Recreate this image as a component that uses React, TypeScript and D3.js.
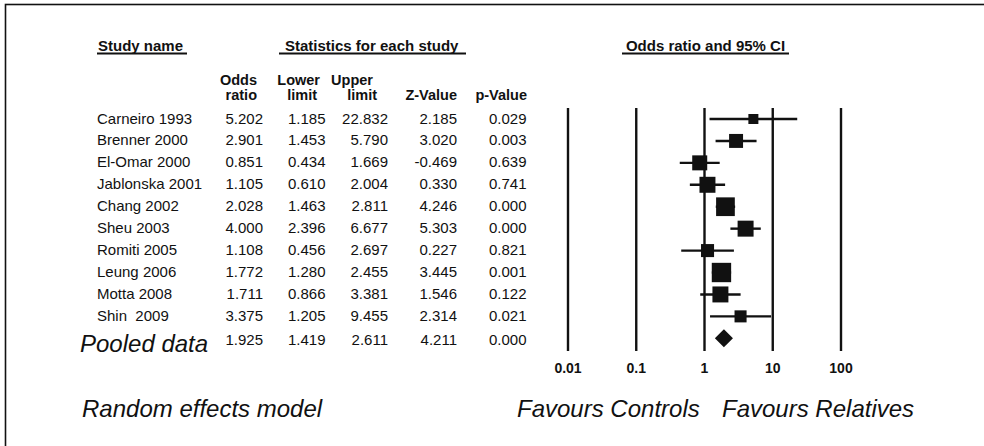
import React, { useEffect, useRef } from 'react';
import * as d3 from 'd3';

const studies = [
  'Carneiro 1993', 'Brenner 2000', 'El-Omar 2000', 'Jablonska 2001', 'Chang 2002',
  'Sheu 2003', 'Romiti 2005', 'Leung 2006', 'Motta 2008', 'Shin  2009',
];
const oddsRatio = [5.202, 2.901, 0.851, 1.105, 2.028, 4.0, 1.108, 1.772, 1.711, 3.375];
const lowerLimit = [1.185, 1.453, 0.434, 0.61, 1.463, 2.396, 0.456, 1.28, 0.866, 1.205];
const upperLimit = [22.832, 5.79, 1.669, 2.004, 2.811, 6.677, 2.697, 2.455, 3.381, 9.455];
const zValue = [2.185, 3.02, -0.469, 0.33, 4.246, 5.303, 0.227, 3.445, 1.546, 2.314];
const pValue = [0.029, 0.003, 0.639, 0.741, 0.0, 0.0, 0.821, 0.001, 0.122, 0.021];
// relative weights
const weights = [4.0, 7.8, 9.0, 10.2, 14.0, 10.2, 6.8, 15.0, 10.2, 5.8];

const pooledLabel = 'Pooled data';
const pooledValues = [1.925, 1.419, 2.611, 4.211, 0.0];

const axisTicks = [0.01, 0.1, 1, 10, 100];
const tickLabels = ['0.01', '0.1', '1', '10', '100'];

const FONT = '"Liberation Sans", Arial, Helvetica, sans-serif';
const INK = '#111';

export default function App() {
  const svgRef = useRef<SVGSVGElement>(null);

  useEffect(() => {
    if (!svgRef.current) return;
    const width = 984;
    const height = 446;
    const svg = d3.select(svgRef.current).attr('width', width).attr('height', height);
    svg.selectAll('*').remove();

    // frame
    svg.append('rect')
      .attr('x', 5.5).attr('y', 4.5)
      .attr('width', 1000).attr('height', 500)
      .attr('fill', 'white')
      .attr('stroke', INK).attr('stroke-width', 1.6);

    const x = d3.scaleLog().domain([0.01, 100]).range([568, 841]);
    const row = d3.scaleLinear().domain([0, 10]).range([119, 338.3]);
    const side = d3.scaleSqrt().domain([0, 16]).range([0, 20]);
    const fmt = d3.formatLocale({ decimal: '.', thousands: ',', grouping: [3], currency: ['', ''], minus: '-' }).format('.3f');

    // headers
    const headers = [
      { t: 'Study name', x: 98, a: 'start', ul: [97, 187] },
      { t: 'Statistics for each study', x: 285, a: 'start', ul: [279, 466] },
      { t: 'Odds ratio and 95% CI', x: 705.5, a: 'middle', ul: [622, 789] },
    ];
    headers.forEach(h => {
      svg.append('text')
        .attr('x', h.x).attr('y', 50.5)
        .attr('text-anchor', h.a)
        .attr('font-family', FONT).attr('font-weight', 'bold').attr('font-size', 15)
        .attr('fill', INK)
        .text(h.t);
      svg.append('line')
        .attr('x1', h.ul[0]).attr('x2', h.ul[1])
        .attr('y1', 53.5).attr('y2', 53.5)
        .attr('stroke', INK).attr('stroke-width', 2);
    });

    const colHeads = [
      { t: 'Odds', x: 257, y: 85 }, { t: 'ratio', x: 257, y: 100 },
      { t: 'Lower', x: 320, y: 85 }, { t: 'limit', x: 317, y: 100 },
      { t: 'Upper', x: 373, y: 85 }, { t: 'limit', x: 377, y: 100 },
      { t: 'Z-Value', x: 457, y: 100 }, { t: 'p-Value', x: 527, y: 100 },
    ];
    svg.selectAll('.colhead')
      .data(colHeads)
      .enter()
      .append('text')
      .attr('x', d => d.x).attr('y', d => d.y)
      .attr('text-anchor', 'end')
      .attr('font-family', FONT).attr('font-weight', 'bold').attr('font-size', 14.5)
      .attr('fill', INK)
      .text(d => d.t);

    // table body
    const colRight = [263, 325.5, 388, 457, 526.5];
    studies.forEach((name, i) => {
      const y = row(i) + 4.5;
      svg.append('text')
        .attr('x', 97).attr('y', y)
        .attr('font-family', FONT).attr('font-size', 15)
        .attr('fill', INK)
        .style('white-space', 'pre')
        .text(name);
      const vals = [oddsRatio[i], lowerLimit[i], upperLimit[i], zValue[i], pValue[i]];
      vals.forEach((v, j) => {
        svg.append('text')
          .attr('x', colRight[j]).attr('y', y)
          .attr('text-anchor', 'end')
          .attr('font-family', FONT).attr('font-size', 15)
          .attr('fill', INK)
          .text(fmt(v));
      });
    });

    // pooled row
    svg.append('text')
      .attr('x', 80).attr('y', 352)
      .attr('font-family', FONT).attr('font-style', 'italic').attr('font-size', 24)
      .attr('fill', INK)
      .text(pooledLabel);
    pooledValues.forEach((v, j) => {
      svg.append('text')
        .attr('x', colRight[j]).attr('y', row(10) + 6.5)
        .attr('text-anchor', 'end')
        .attr('font-family', FONT).attr('font-size', 15)
        .attr('fill', INK)
        .text(fmt(v));
    });

    // reference lines
    svg.selectAll('.ref')
      .data(axisTicks)
      .enter()
      .append('line')
      .attr('x1', d => x(d)).attr('x2', d => x(d))
      .attr('y1', 108).attr('y2', 351)
      .attr('stroke', INK).attr('stroke-width', 2.4);

    svg.selectAll('.tick')
      .data(axisTicks)
      .enter()
      .append('text')
      .attr('x', d => x(d)).attr('y', 373)
      .attr('text-anchor', 'middle')
      .attr('font-family', FONT).attr('font-weight', 'bold').attr('font-size', 14)
      .attr('fill', INK)
      .text((d, i) => tickLabels[i]);

    // confidence intervals and squares
    studies.forEach((_, i) => {
      const y = row(i);
      svg.append('line')
        .attr('x1', x(lowerLimit[i])).attr('x2', x(upperLimit[i]))
        .attr('y1', y).attr('y2', y)
        .attr('stroke', INK).attr('stroke-width', 2.4);
      const s = side(weights[i]);
      svg.append('rect')
        .attr('x', x(oddsRatio[i]) - s / 2).attr('y', y - s / 2)
        .attr('width', s).attr('height', s)
        .attr('fill', INK);
    });

    // pooled diamond
    const py = row(10);
    const half = 9;
    const diamond = [
      [x(pooledValues[1]), py],
      [x(pooledValues[0]), py - half],
      [x(pooledValues[2]), py],
      [x(pooledValues[0]), py + half],
    ] as [number, number][];
    svg.append('path')
      .attr('d', d3.line()(diamond) + 'Z')
      .attr('fill', INK);

    // footer
    const footer = [
      { t: 'Random effects model', x: 82 },
      { t: 'Favours Controls', x: 517 },
      { t: 'Favours Relatives', x: 722 },
    ];
    svg.selectAll('.footer')
      .data(footer)
      .enter()
      .append('text')
      .attr('x', d => d.x).attr('y', 416.5)
      .attr('font-family', FONT).attr('font-style', 'italic').attr('font-size', 24)
      .attr('fill', INK)
      .text(d => d.t);
  }, []);

  return (
    <svg
      ref={svgRef}
      style={{ position: 'absolute', left: 0, top: 0, display: 'block', background: 'white' }}
    />
  );
}
